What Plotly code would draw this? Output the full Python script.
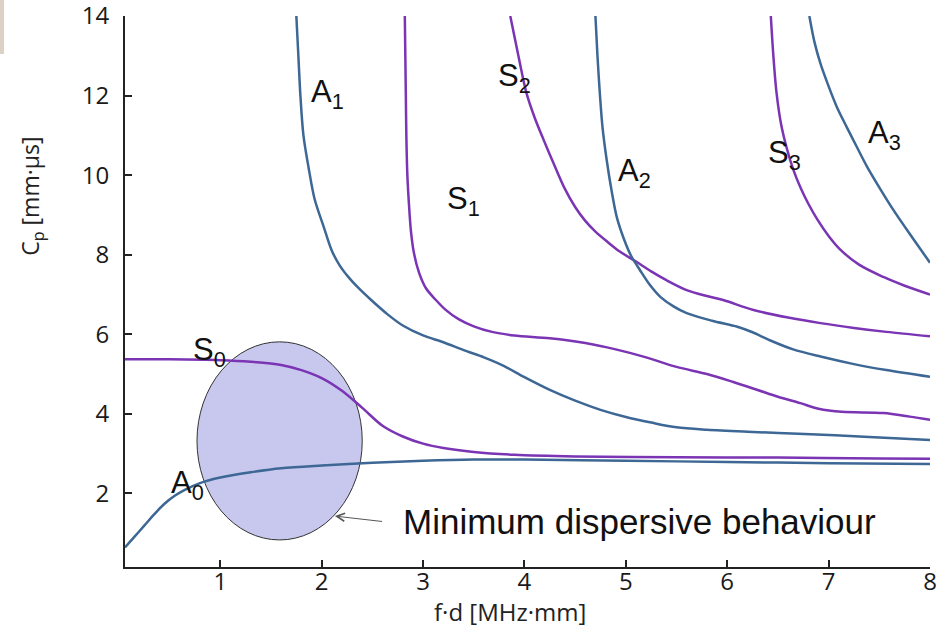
import plotly.graph_objects as go

# ---- data ----
A0_x = [0.06, 0.15, 0.25, 0.35, 0.45, 0.55, 0.65, 0.8, 1.0, 1.3, 1.6, 2.0, 2.5, 3.0, 3.5, 4.0, 5.0, 6.0, 7.0, 8.0]
A0_y = [0.64, 0.90, 1.19, 1.48, 1.74, 1.94, 2.09, 2.26, 2.40, 2.53, 2.63, 2.70, 2.77, 2.82, 2.85, 2.85, 2.82, 2.79, 2.76, 2.74]

S0_x = [0.06, 0.5, 1.0, 1.3, 1.6, 1.8, 2.0, 2.2, 2.4, 2.6, 2.8, 3.0, 3.2, 3.5, 3.9, 4.5, 5.5, 6.5, 7.5, 8.0]
S0_y = [5.37, 5.37, 5.35, 5.31, 5.23, 5.10, 4.90, 4.58, 4.15, 3.70, 3.43, 3.25, 3.14, 3.04, 2.97, 2.93, 2.91, 2.90, 2.88, 2.87]

A1_x = [1.75, 1.77, 1.79, 1.82, 1.87, 1.93, 2.02, 2.10, 2.18, 2.26, 2.36, 2.48, 2.65, 2.80, 3.0, 3.2, 3.4, 3.6, 3.8,
        4.0, 4.25, 4.5, 4.75, 5.0, 5.25, 5.5, 5.8, 6.2, 6.7, 7.4, 8.0]
A1_y = [14, 13.0, 12.0, 11.0, 10.2, 9.4, 8.7, 8.1, 7.72, 7.45, 7.17, 6.88, 6.5, 6.22, 5.97, 5.8, 5.6, 5.42, 5.2,
        4.92, 4.6, 4.33, 4.1, 3.92, 3.78, 3.66, 3.6, 3.55, 3.5, 3.42, 3.34]

S1_x = [2.82, 2.825, 2.83, 2.835, 2.845, 2.86, 2.88, 2.91, 2.96, 3.03, 3.12, 3.22, 3.35, 3.5, 3.68, 3.9, 4.25, 4.6,
        4.9, 5.2, 5.5, 5.8, 6.06, 6.3, 6.5, 6.72, 6.9, 7.13, 7.54, 7.8, 8.0]
S1_y = [14, 13, 12, 11, 10, 9.3, 8.6, 8.04, 7.55, 7.15, 6.88, 6.62, 6.38, 6.2, 6.06, 5.97, 5.9, 5.78,
        5.62, 5.42, 5.18, 5.0, 4.8, 4.6, 4.43, 4.27, 4.13, 4.05, 4.02, 3.93, 3.85]

S2_x = [3.86, 3.94, 4.02, 4.10, 4.19, 4.29, 4.39, 4.50, 4.60, 4.70, 4.82, 4.94, 5.10, 5.25, 5.40, 5.60, 5.80, 5.96,
        6.26, 6.60, 6.92, 7.25, 7.57, 8.0]
S2_y = [14, 13.0, 12.06, 11.45, 10.88, 10.28, 9.7, 9.2, 8.85, 8.58, 8.32, 8.08, 7.83, 7.58, 7.36, 7.11, 6.96, 6.86,
        6.61, 6.42, 6.28, 6.16, 6.06, 5.95]

A2_x = [4.70, 4.72, 4.745, 4.77, 4.81, 4.86, 4.91, 4.98, 5.05, 5.14, 5.24, 5.34, 5.47, 5.6, 5.85, 6.1, 6.25, 6.42,
        6.65, 6.92, 7.25, 7.57, 8.0]
A2_y = [14, 13, 12, 11.2, 10.4, 9.6, 8.95, 8.4, 7.98, 7.61, 7.23, 6.94, 6.7, 6.53, 6.34, 6.19, 6.05, 5.85,
        5.62, 5.44, 5.25, 5.10, 4.93]

S3_x = [6.43, 6.455, 6.485, 6.53, 6.59, 6.65, 6.72, 6.80, 6.89, 7.0, 7.11, 7.3, 7.54, 7.75, 8.0]
S3_y = [14, 13, 12.1, 11.3, 10.65, 10.15, 9.7, 9.28, 8.88, 8.47, 8.14, 7.75, 7.44, 7.22, 7.0]

A3_x = [6.81, 6.86, 6.92, 6.99, 7.08, 7.18, 7.28, 7.38, 7.51, 7.64, 7.82, 8.0]
A3_y = [14, 13.35, 12.8, 12.3, 11.72, 11.2, 10.7, 10.21, 9.65, 9.12, 8.45, 7.8]

x_ticks = [1, 2, 3, 4, 5, 6, 7, 8]
y_ticks = [2, 4, 6, 8, 10, 12, 14]

# mode labels: (text, x, y)
mode_labels = [
    ("A<sub>0</sub>", 0.49, 2.22),
    ("S<sub>0</sub>", 0.71, 5.56),
    ("A<sub>1</sub>", 1.87, 12.05),
    ("S<sub>1</sub>", 3.22, 9.35),
    ("S<sub>2</sub>", 3.72, 12.45),
    ("A<sub>2</sub>", 4.90, 10.05),
    ("S<sub>3</sub>", 6.38, 10.50),
    ("A<sub>3</sub>", 7.37, 11.00),
]

BLUE = "#3d6794"
PURPLE = "#7a34b4"

fig = go.Figure()

curves = [
    ("A0", A0_x, A0_y, BLUE),
    ("S0", S0_x, S0_y, PURPLE),
    ("A1", A1_x, A1_y, BLUE),
    ("S1", S1_x, S1_y, PURPLE),
    ("S2", S2_x, S2_y, PURPLE),
    ("A2", A2_x, A2_y, BLUE),
    ("S3", S3_x, S3_y, PURPLE),
    ("A3", A3_x, A3_y, BLUE),
]
for name, xs, ys, col in curves:
    fig.add_trace(go.Scatter(
        x=xs, y=ys, mode="lines", name=name,
        line=dict(color=col, width=2.5, shape="spline", smoothing=0.9),
        hoverinfo="skip", showlegend=False,
    ))

# ellipse marking minimum dispersion
fig.add_shape(type="circle", xref="x", yref="y",
              x0=0.77, x1=2.40, y0=0.83, y1=5.81,
              fillcolor="#c8c8ee", line=dict(color="#333333", width=1),
              layer="below")

# small tan patch in the top-left corner
fig.add_shape(type="rect", xref="paper", yref="paper",
              x0=-0.1553, x1=-0.1503, y0=0.931, y1=1.029,
              fillcolor="#ddd1c5", line=dict(width=0), layer="below")

label_font = dict(family="Liberation Sans, Arial, sans-serif", size=31, color="#111111")
for txt, lx, ly in mode_labels:
    fig.add_annotation(x=lx, y=ly, xref="x", yref="y", text=txt,
                       showarrow=False, xanchor="left", yanchor="middle",
                       font=label_font)

# note with arrow
fig.add_annotation(x=2.13, y=1.43, ax=2.61, ay=1.29, xref="x", yref="y",
                   axref="x", ayref="y", text="", showarrow=True,
                   arrowhead=5, arrowsize=1.6, arrowwidth=1, arrowcolor="#555555")
fig.add_annotation(x=2.785, y=1.30, xref="x", yref="y",
                   text="Minimum dispersive behaviour", showarrow=False,
                   xanchor="left", yanchor="middle",
                   font=dict(family="Liberation Sans, Arial, sans-serif", size=35, color="#111111"))

# axis titles
fig.add_annotation(x=-0.1155, y=0.672, xref="paper", yref="paper",
                   text="C<sub>p</sub> [mm·μs]", textangle=-90, showarrow=False,
                   xanchor="center", yanchor="middle",
                   font=dict(family="Open Sans, sans-serif", size=23, color="#222222"))
fig.add_annotation(x=0.478, y=-0.08, xref="paper", yref="paper",
                   text="f·d [MHz·mm]", showarrow=False,
                   xanchor="center", yanchor="middle",
                   font=dict(family="Open Sans, sans-serif", size=24, color="#222222"))

tick_font = dict(family="Open Sans, sans-serif", size=24, color="#1a1a1a")
fig.update_xaxes(range=[0.06, 8], tickvals=x_ticks, ticktext=[str(v) for v in x_ticks],
                 showgrid=False, zeroline=False, showline=True, linecolor="#222222",
                 linewidth=2, ticks="inside", ticklen=7, tickwidth=2, tickcolor="#222222",
                 tickfont=tick_font, automargin=False, ticklabeloverflow="allow",
                 ticklabelstandoff=-8)
fig.update_yaxes(range=[0.15, 14], tickvals=y_ticks, ticktext=[str(v) for v in y_ticks],
                 showgrid=False, zeroline=False, showline=True, linecolor="#222222",
                 linewidth=2, ticks="inside", ticklen=7, tickwidth=2, tickcolor="#222222",
                 tickfont=tick_font, automargin=False, ticklabeloverflow="allow",
                 ticklabelstandoff=9)

fig.update_layout(width=951, height=632,
                  margin=dict(l=125, r=21, t=16, b=65, autoexpand=False),
                  paper_bgcolor="white", plot_bgcolor="white")

# remove the browser's default body margin so the figure fills the window exactly
fig.write_html("out.html", config={"displayModeBar": False},
               post_script="document.body.style.margin='0px';")
